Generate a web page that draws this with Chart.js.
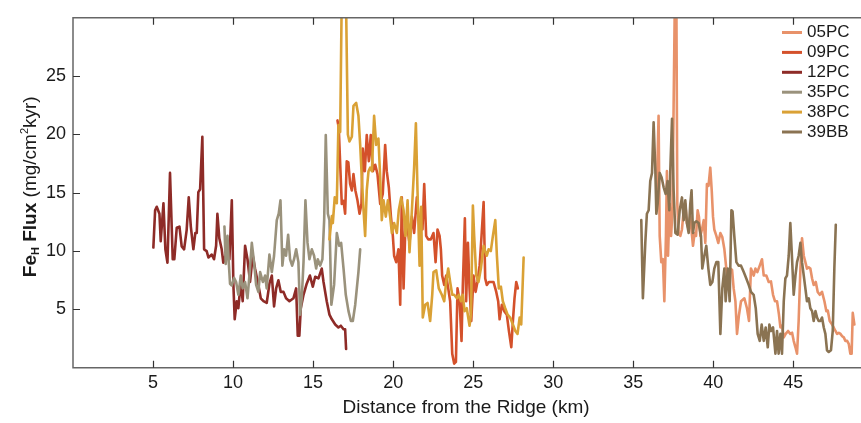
<!DOCTYPE html>
<html>
<head>
<meta charset="utf-8">
<script src="https://cdn.jsdelivr.net/npm/chart.js@4.4.1/dist/chart.umd.min.js"></script>
<style>
	html, body { margin: 0; padding: 0; background: #fff; }
	#c { display: block; }
</style>
</head>
<body>
<canvas id="c" width="861" height="423"></canvas>
<script>
// 値は図から読み取った概算値 [距離 km, Fe_H flux]
const xTicks = [5, 10, 15, 20, 25, 30, 35, 40, 45];
const yTicks = [5, 10, 15, 20, 25];
const coreNames = ['05PC', '09PC', '12PC', '35PC', '38PC', '39BB'];
const coreColors = ['#e8926a', '#d4512b', '#8e2b27', '#9a927c', '#daa135', '#8a7352'];

const core05PC = [[36.45,14.0],[36.58,21.6],[36.65,11.3],[36.75,9.05],[36.85,9.3],[36.94,5.7],[37.04,11.3],[37.1,16.85],[37.17,9.6],[37.27,14.05],[37.36,11.3],[37.44,13.2],[37.52,22.45],[37.6,32],[37.69,32],[37.75,14.05],[37.83,11.55],[37.94,11.3],[38.04,11.85],[38.15,13.5],[38.25,14.05],[38.35,12.4],[38.46,11.85],[38.56,12.95],[38.67,11.3],[38.73,10.45],[38.83,11.55],[38.92,11.3],[39.02,13.5],[39.1,12.95],[39.19,11.3],[39.29,11.85],[39.4,12.65],[39.5,10.7],[39.6,15.75],[39.7,15.6],[39.81,17.15],[39.9,15.2],[39.98,12.95],[40.06,11.85],[40.19,11.3],[40.31,10.7],[40.44,11.55],[40.56,11.2],[40.69,10.15],[40.81,8.5],[40.96,7.35],[41.06,8.5],[41.17,8.4],[41.27,6.8],[41.38,5.7],[41.48,2.9],[41.6,4.5],[41.73,5.7],[41.94,5.95],[42.1,5.1],[42.23,4.0],[42.35,8.5],[42.52,7.9],[42.63,8.5],[42.75,8.2],[42.9,8.75],[43.04,9.3],[43.15,7.9],[43.31,7.9],[43.46,7.35],[43.6,7.4],[43.73,6.25],[43.85,5.7],[43.98,5.7],[44.1,4.55],[44.19,3.45],[44.29,3.6],[44.4,2.6],[44.52,2.9],[44.67,3.15],[44.81,2.9],[44.92,3.0],[45.02,2.3],[45.13,1.75],[45.23,1.2],[45.33,4.0],[45.44,8.5],[45.54,11.1],[45.65,9.6],[45.75,9.05],[45.85,8.5],[45.96,8.6],[46.06,8.5],[46.17,7.65],[46.27,7.1],[46.4,7.35],[46.52,6.5],[46.65,6.25],[46.79,6.5],[46.94,5.7],[47.06,4.85],[47.15,4.9],[47.27,4.0],[47.42,3.7],[47.52,3.45],[47.63,3.15],[47.73,2.9],[47.84,3.0],[47.94,2.9],[48.05,2.7],[48.15,2.6],[48.25,2.3],[48.36,2.3],[48.46,2.05],[48.56,1.2],[48.64,1.2],[48.71,4.7],[48.81,3.7]];

const core09PC = [[16.52,21.2],[16.6,20.6],[16.79,14.05],[16.9,14.3],[17.0,13.2],[17.1,17.7],[17.2,17.6],[17.31,15.75],[17.42,15.2],[17.52,16.6],[17.64,15.2],[17.77,14.35],[17.9,13.2],[18.02,14.05],[18.1,18.8],[18.23,16.85],[18.35,19.95],[18.48,17.7],[18.6,19.95],[18.73,16.85],[18.88,17.4],[19.02,16.6],[19.19,14.05],[19.35,14.9],[19.5,19.1],[19.6,16.85],[19.73,15.45],[19.86,12.95],[19.98,11.3],[20.06,9.6],[20.19,9.05],[20.33,10.15],[20.44,5.4],[20.54,14.6],[20.65,6.8],[20.77,12.4],[20.9,11.85],[21.02,10.7],[21.17,12.95],[21.31,11.55],[21.48,14.6],[21.6,12.65],[21.73,12.95],[21.83,11.85],[21.94,15.75],[22.06,11.3],[22.19,11.0],[22.35,11.0],[22.52,11.55],[22.65,9.05],[22.77,11.85],[22.9,11.3],[22.98,10.15],[23.06,7.9],[23.19,7.1],[23.31,7.9],[23.44,6.8],[23.56,5.7],[23.69,1.2],[23.81,0.35],[23.92,0.5],[24.02,6.8],[24.15,5.7],[24.27,2.3],[24.35,6.95],[24.48,12.8],[24.56,5.7],[24.67,10.7],[24.77,6.8],[24.88,4.0],[25.02,7.9],[25.15,6.5],[25.27,7.4],[25.4,8.75],[25.52,11.3],[25.65,14.2],[25.75,7.65],[25.85,7.1],[25.98,7.35],[26.1,7.35],[26.27,7.35],[26.44,6.5],[26.56,5.7],[26.65,4.15],[26.79,5.4],[26.94,4.85],[27.1,4.55],[27.23,3.15],[27.38,1.75],[27.48,4.0],[27.58,5.95],[27.69,7.35],[27.79,6.8]];

const core12PC = [[5.02,10.3],[5.13,13.5],[5.23,13.8],[5.4,13.2],[5.48,10.85],[5.65,14.1],[5.77,10.15],[5.9,9.0],[6.06,16.7],[6.23,9.3],[6.33,9.3],[6.48,12.0],[6.65,12.1],[6.79,10.4],[6.94,10.15],[7.1,11.8],[7.23,14.6],[7.36,12.1],[7.52,10.15],[7.64,11.55],[7.73,11.55],[7.83,15.05],[7.94,15.3],[8.08,19.8],[8.19,10.15],[8.35,10.0],[8.46,9.45],[8.67,9.7],[8.81,9.3],[8.94,10.45],[9.02,13.2],[9.14,11.1],[9.29,10.15],[9.39,9.0],[9.6,9.9],[9.77,9.3],[9.92,14.35],[10.02,7.1],[10.1,4.15],[10.23,5.7],[10.33,5.1],[10.48,7.35],[10.6,5.7],[10.75,10.45],[10.9,9.3],[11.06,7.35],[11.23,9.6],[11.37,8.5],[11.58,7.1],[11.73,5.95],[11.9,5.7],[12.1,5.55],[12.27,7.2],[12.42,7.9],[12.56,5.25],[12.69,6.8],[12.83,7.5],[12.98,6.5],[13.15,6.5],[13.31,5.95],[13.52,5.7],[13.77,5.95],[13.94,6.8],[14.04,2.75],[14.14,2.75],[14.23,5.1],[14.4,6.25],[14.6,7.2],[14.8,7.9],[14.98,6.95],[15.13,7.8],[15.33,7.65],[15.54,8.5],[15.65,7.35],[15.85,5.7],[16.02,4.55],[16.17,4.15],[16.38,3.7],[16.58,3.45],[16.73,3.6],[16.9,3.3],[17.0,3.3],[17.06,1.6]];

const core35PC = [[9.46,12.1],[9.54,8.9],[9.65,11.3],[9.73,9.05],[9.81,7.2],[9.92,7.05],[10.06,7.7],[10.19,7.35],[10.33,6.25],[10.48,7.9],[10.6,6.8],[10.75,7.35],[10.9,5.95],[11.02,7.9],[11.17,10.7],[11.31,9.05],[11.44,7.1],[11.58,6.5],[11.69,8.2],[11.86,7.35],[12.0,7.9],[12.1,6.8],[12.27,9.7],[12.42,8.2],[12.56,9.6],[12.73,12.65],[12.85,13.2],[12.96,14.35],[13.08,8.75],[13.19,10.15],[13.31,9.6],[13.44,11.4],[13.56,9.3],[13.69,8.75],[13.81,9.3],[13.94,10.15],[14.08,9.05],[14.19,4.55],[14.29,5.95],[14.4,9.05],[14.52,14.35],[14.65,10.7],[14.77,9.3],[14.92,10.15],[15.06,9.6],[15.19,8.5],[15.29,9.3],[15.44,8.75],[15.58,9.3],[15.69,12.65],[15.79,19.95],[15.92,13.2],[16.02,12.65],[16.14,5.4],[16.31,7.1],[16.48,11.55],[16.63,10.45],[16.75,10.7],[16.9,8.5],[17.04,6.25],[17.21,4.85],[17.36,4.0],[17.48,4.0],[17.63,5.4],[17.73,6.8],[17.83,8.2],[17.94,10.15]];

const core38PC = [[16.02,11.0],[16.17,13.0],[16.23,12.4],[16.35,14.6],[16.48,14.1],[16.58,20.8],[16.69,20.2],[16.79,32],[16.9,36],[17.04,33],[17.17,20],[17.27,19.4],[17.42,19.8],[17.52,22.45],[17.69,22.7],[17.83,21.6],[17.94,19.1],[18.04,16.3],[18.15,13.5],[18.25,11.3],[18.35,15.2],[18.46,16.85],[18.56,17.15],[18.67,16.85],[18.81,21.6],[18.94,19.1],[19.08,19.65],[19.19,16.3],[19.29,12.65],[19.4,14.35],[19.54,12.95],[19.67,14.35],[19.81,12.95],[19.92,11.55],[20.06,12.4],[20.23,11.55],[20.35,13.5],[20.5,14.6],[20.65,13.5],[20.77,11.3],[20.9,14.35],[21.02,9.9],[21.17,13.5],[21.31,17.15],[21.42,20.95],[21.52,15.2],[21.65,8.75],[21.75,13.8],[21.85,4.3],[22.0,5.4],[22.15,5.55],[22.31,4.0],[22.44,6.25],[22.52,8.2],[22.69,8.35],[22.85,6.8],[23.04,6.25],[23.19,5.7],[23.31,7.35],[23.44,8.5],[23.56,7.35],[23.69,6.25],[23.81,6.25],[23.98,5.95],[24.1,6.25],[24.23,5.7],[24.35,6.25],[24.46,4.85],[24.6,5.1],[24.77,3.6],[24.86,4.55],[24.98,13.9],[25.06,11.3],[25.19,7.9],[25.33,7.35],[25.48,8.5],[25.65,10.45],[25.75,10.0],[25.85,9.6],[25.96,10.15],[26.1,10.0],[26.23,11.3],[26.38,12.65],[26.48,9.6],[26.6,6.8],[26.73,6.95],[26.85,5.7],[27.0,5.1],[27.15,4.55],[27.31,4.3],[27.48,3.7],[27.63,3.15],[27.77,2.9],[27.9,4.3],[28.0,3.7],[28.15,9.45]];

const core39BB = [[35.5,12.65],[35.6,5.95],[35.75,10.7],[35.85,13.2],[35.96,13.5],[36.06,16.0],[36.17,16.7],[36.27,21.05],[36.38,16.85],[36.44,13.2],[36.52,14.05],[36.65,16.7],[36.77,16.3],[36.9,15.45],[37.02,14.9],[37.14,16.0],[37.25,13.5],[37.31,16.85],[37.42,21.35],[37.52,15.2],[37.63,11.55],[37.77,11.4],[37.9,13.5],[38.04,14.6],[38.15,12.65],[38.25,14.35],[38.35,12.4],[38.46,11.55],[38.56,14.05],[38.64,15.2],[38.73,11.55],[38.81,12.4],[38.94,12.55],[39.08,12.4],[39.23,11.3],[39.31,8.5],[39.44,9.6],[39.56,10.45],[39.69,8.5],[39.81,7.1],[39.94,7.35],[40.06,8.5],[40.19,9.05],[40.31,9.05],[40.44,2.9],[40.56,6.8],[40.69,8.5],[40.77,5.7],[40.9,8.5],[41.02,5.7],[41.13,13.5],[41.2,13.4],[41.31,11.3],[41.44,9.05],[41.58,8.75],[41.73,8.75],[41.9,8.2],[42.06,7.65],[42.21,7.1],[42.35,6.5],[42.52,6.25],[42.65,5.1],[42.77,2.9],[42.9,2.3],[43.02,3.7],[43.15,2.3],[43.27,3.45],[43.4,1.75],[43.5,3.7],[43.6,3.15],[43.73,3.45],[43.88,1.2],[43.98,3.15],[44.08,1.2],[44.19,2.9],[44.29,1.2],[44.4,5.7],[44.5,7.65],[44.6,7.9],[44.71,9.6],[44.81,12.4],[44.92,9.3],[45.02,6.25],[45.13,7.9],[45.23,9.05],[45.33,9.6],[45.44,10.7],[45.54,9.05],[45.65,7.9],[45.75,6.8],[45.85,5.7],[45.96,5.95],[46.06,5.1],[46.17,4.85],[46.27,4.0],[46.38,4.85],[46.48,4.3],[46.58,4.0],[46.69,4.0],[46.79,4.3],[46.9,3.45],[47.0,2.9],[47.1,1.5],[47.21,1.35],[47.35,1.5],[47.46,3.15],[47.56,8.5],[47.65,12.25]];

const coreSeries = [core05PC, core09PC, core12PC, core35PC, core38PC, core39BB];
const drawOrder = [5, 4, 3, 2, 1, 0]; // 小さいほど手前に描画

const FONT = '"Liberation Sans", Arial, Helvetica, sans-serif';
const INK = '#1a1a1a';
const FRAME = '#666666';

// 枠線・内向きの目盛り・軸タイトル・凡例を描くプラグイン
const framePlugin = {
	id: 'frameAndLabels',
	afterDraw(chart) {
		const ctx = chart.ctx;
		const area = chart.chartArea;
		const xs = chart.scales.x;
		const ys = chart.scales.y;
		ctx.save();

		// 枠線（上・左・下）
		ctx.strokeStyle = FRAME;
		ctx.lineWidth = 1.5;
		ctx.beginPath();
		ctx.moveTo(area.right + 2, area.top);
		ctx.lineTo(area.left, area.top);
		ctx.lineTo(area.left, area.bottom);
		ctx.lineTo(area.right + 2, area.bottom);
		ctx.stroke();

		// 内向きの目盛り
		ctx.lineWidth = 1.2;
		ctx.strokeStyle = '#333';
		ctx.beginPath();
		xTicks.forEach(function(v) {
			const px = Math.round(xs.getPixelForValue(v)) + 0.5;
			ctx.moveTo(px, area.bottom);
			ctx.lineTo(px, area.bottom - 7);
			ctx.moveTo(px, area.top);
			ctx.lineTo(px, area.top + 7);
		});
		yTicks.forEach(function(v) {
			const py = Math.round(ys.getPixelForValue(v)) + 0.5;
			ctx.moveTo(area.left, py);
			ctx.lineTo(area.left + 7, py);
		});
		ctx.stroke();

		// x軸タイトル
		ctx.fillStyle = INK;
		ctx.font = '19px ' + FONT;
		ctx.textAlign = 'center';
		ctx.textBaseline = 'middle';
		ctx.fillText('Distance from the Ridge (km)', (area.left + area.right) / 2, 408);

		// y軸タイトル（Fe_H Flux (mg/cm²kyr)）
		const parts = [
			{ t: 'Fe', f: 'bold 19px ' + FONT, dy: 0 },
			{ t: 'H', f: 'bold 11px ' + FONT, dy: 5 },
			{ t: ' Flux', f: 'bold 19px ' + FONT, dy: 0 },
			{ t: ' (mg/cm', f: '19px ' + FONT, dy: 0 },
			{ t: '2', f: '11px ' + FONT, dy: -6 },
			{ t: 'kyr)', f: '19px ' + FONT, dy: 0 }
		];
		let total = 0;
		parts.forEach(function(p) {
			ctx.font = p.f;
			p.w = ctx.measureText(p.t).width;
			total += p.w;
		});
		ctx.translate(31, (area.top + area.bottom) / 2 - 6);
		ctx.rotate(-Math.PI / 2);
		ctx.textAlign = 'left';
		ctx.textBaseline = 'middle';
		let cx = -total / 2;
		parts.forEach(function(p) {
			ctx.font = p.f;
			ctx.fillText(p.t, cx, p.dy);
			cx += p.w;
		});
		ctx.setTransform(1, 0, 0, 1, 0, 0);

		// 凡例
		ctx.font = '17px ' + FONT;
		ctx.textAlign = 'left';
		ctx.textBaseline = 'middle';
		chart.data.datasets.forEach(function(ds, i) {
			const ly = 32.5 + i * 19.9;
			ctx.strokeStyle = ds.borderColor;
			ctx.lineWidth = 3;
			ctx.beginPath();
			ctx.moveTo(782, ly);
			ctx.lineTo(802, ly);
			ctx.stroke();
			ctx.fillStyle = INK;
			ctx.fillText(ds.label, 807, ly);
		});

		ctx.restore();
	}
};

const datasets = coreSeries.map(function(series, i) {
	return {
		label: coreNames[i],
		data: series.map(function(p) { return { x: p[0], y: p[1] }; }),
		borderColor: coreColors[i],
		backgroundColor: coreColors[i],
		borderWidth: 2.6,
		borderJoinStyle: 'round',
		borderCapStyle: 'round',
		pointRadius: 0,
		tension: 0,
		fill: false,
		order: drawOrder[i]
	};
});

new Chart(document.getElementById('c'), {
	type: 'line',
	data: { datasets: datasets },
	options: {
		responsive: false,
		animation: false,
		devicePixelRatio: 1,
		layout: { padding: { left: 0, right: 2, top: 10, bottom: 0 } },
		plugins: {
			legend: { display: false },
			tooltip: { enabled: false }
		},
		scales: {
			x: {
				type: 'linear',
				min: 0,
				max: 49.1,
				afterBuildTicks: function(s) { s.ticks = xTicks.map(function(v) { return { value: v }; }); },
				afterFit: function(s) { s.height = 55.3; },
				grid: { display: false, drawTicks: false },
				border: { display: false },
				ticks: { font: { size: 18, family: FONT }, color: INK, padding: 5, maxRotation: 0, autoSkip: false }
			},
			y: {
				type: 'linear',
				min: 0,
				max: 30,
				afterBuildTicks: function(s) { s.ticks = yTicks.map(function(v) { return { value: v }; }); },
				afterFit: function(s) { s.width = 73; },
				grid: { display: false, drawTicks: false },
				border: { display: false },
				ticks: { font: { size: 18, family: FONT }, color: INK, padding: 7 }
			}
		}
	},
	plugins: [framePlugin]
});
</script>
</body>
</html>
